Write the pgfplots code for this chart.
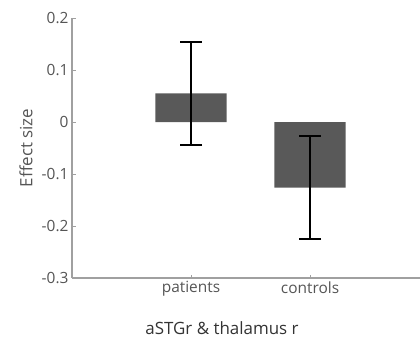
\documentclass[border=0pt]{standalone}
\usepackage{fontspec}
\setmainfont{Open Sans}
\usepackage{pgfplots}
\pgfplotsset{compat=1.18}
\definecolor{barc}{HTML}{595959}
\definecolor{axc}{HTML}{A0A0A0}
\definecolor{tickc}{HTML}{555555}
\begin{document}
\begin{tikzpicture}
\useasboundingbox (-72bp,-66bp) rectangle (348bp,278bp);
\begin{axis}[
  at={(0,0)}, anchor=south west,
  scale only axis, width=348bp, height=260bp,
  xmin=0, xmax=2.924, ymin=-0.3, ymax=0.2,
  axis lines*=left,
  axis line style={axc, line width=1.3bp},
  xtick={1,2}, xticklabels={patients, controls},
  ytick={-0.3,-0.2,-0.1,0,0.1,0.2},
  yticklabel style={/pgf/number format/fixed, /pgf/number format/precision=1},
  /pgf/number format/assume math mode=true,
  tick style={axc, line width=0.8bp},
  major tick length=3.5bp,
  tick align=inside,
  ticklabel style={font=\fontsize{15.5}{17}\selectfont, text=tickc},
  label style={font=\fontsize{17}{19}\selectfont, text=black!80},
  ylabel={Effect size},
  ylabel style={at={(rel axis cs:0,0.5)}, anchor=center, yshift=46bp, text=tickc},
  xlabel={aSTGr \& thalamus r},
  xlabel style={at={(rel axis cs:0.431,0)}, anchor=center, yshift=-50bp},
  clip=false,
]
\addplot[ybar, bar width=0.6, fill=barc, draw=none, bar shift=0pt,
  error bars/.cd, y dir=both, y explicit,
  error bar style={line width=2.5bp, black},
  error mark options={line width=2.5bp, mark size=11bp, rotate=90, black}]
  coordinates {(1,0.055) +- (0,0.099) (2,-0.126) +- (0,0.099)};
\end{axis}
\end{tikzpicture}
\end{document}
